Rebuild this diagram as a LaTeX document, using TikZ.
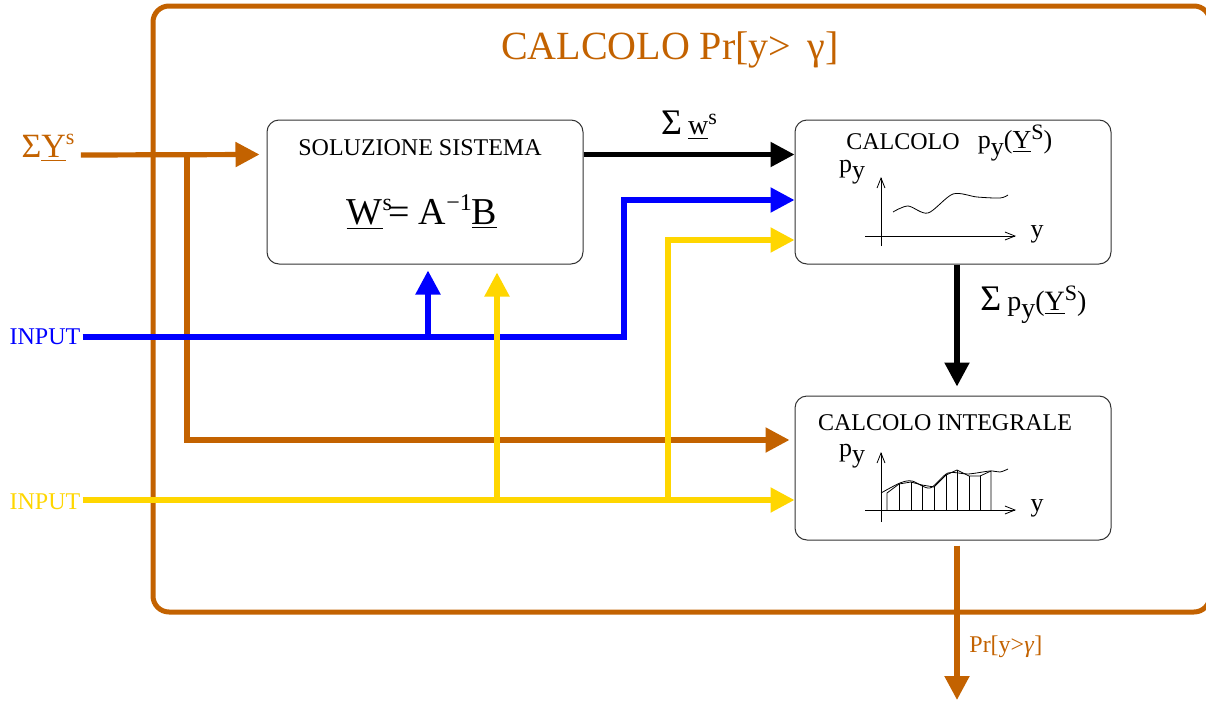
\documentclass[tikz,border=0pt]{standalone}
\usepackage{fontspec}
\setmainfont{Liberation Serif}
\usetikzlibrary{arrows.meta, positioning, calc}
\definecolor{ocra}{RGB}{195,98,0}
\definecolor{giallo}{RGB}{255,214,0}
\newcommand{\ap}[2][10]{\raisebox{0.8ex}{\fontsize{#1}{#1}\selectfont #2}}
\newcommand{\pd}[2][11]{\raisebox{-0.55ex}{\fontsize{#1}{#1}\selectfont #2}}
\newcommand{\fs}[1]{\fontsize{#1}{#1}\selectfont}

\begin{document}
\begin{tikzpicture}[x=0.5pt, y=-0.5pt,
    blocco/.style={draw=black!80, line width=0.5pt, rounded corners=6pt, minimum width=158pt, minimum height=72pt},
    flusso/.style={line width=2.6pt, -{Triangle[length=12pt, width=12pt]}},
    assi/.style={line width=0.4pt, -{Straight Barb[length=5pt, width=4pt]}},
    etich/.style={font=\fs{12}, inner sep=1pt}]
    \useasboundingbox (0,0) rectangle (1206,702);
    \draw[ocra, line width=2.5pt, rounded corners=8pt] (153,6) rectangle (1210,612);
    \node[etich, ocra, font=\fs{20}] (titolo) at (670,50) {CALCOLO Pr[y>\ \,γ]};

    \node[blocco] (sol) at (425,192) {};
    \node[blocco] (pdf) at (953,192) {};
    \node[blocco] (int) at (953,468) {};
    \node[etich] (solt) at (420,148) {SOLUZIONE SISTEMA};
    \node[etich, font=\fs{19}] (eq) at (422,212) {\underline{W}\ap[12]{s}\hspace{-0.1em}= A\ap[12]{−1}\underline{B}};
    \node[etich] (pdft) at (903,142) {CALCOLO};
    \node[etich, font=\fs{13}] (pdfy) at (1015,143) {p\pd[13]{y}(\underline{Y}\ap[11]{S})};
    \node[etich, inner sep=0pt] (intt) at (945,423) {CALCOLO INTEGRALE};

    \node[etich, ocra, font=\fs{17}] (sy) at (48,148) {Σ\underline{Y}\ap[11]{s}};
    \node[etich, blue] (inb) at (45,337) {INPUT};
    \node[etich, giallo] (ing) at (45,502) {INPUT};
    \coordinate (jo) at (187,155);
    \coordinate (jb) at (428,337);
    \coordinate (jb2) at (624,337);
    \coordinate (jg1) at (497,500);
    \coordinate (jg2) at (668,500);

    \draw[flusso, ocra] ([xshift=2pt]sy.east |- jo) -- ($(sol.north west)+(-7,35)$);
    \draw[flusso, ocra] (jo) |- ($(int.west)+(-5,-28)$);
    \draw[flusso, blue] (inb.east |- jb) -- (jb2) |- ($(pdf.west)+(0,8)$);
    \draw[flusso, blue] (jb) -- ([yshift=-3pt]jb |- sol.south);
    \draw[flusso, giallo] (ing.east |- jg1) -- ($(int.west)+(0,32)$);
    \draw[flusso, giallo] (jg1) -- ([yshift=-4pt]jg1 |- sol.south);
    \draw[flusso, giallo] (jg2) |- ($(pdf.west)+(0,48)$);
    \draw[flusso] ($(sol.north east)+(0,35)$) -- ($(pdf.north west)+(0,35)$)
        node[midway, above=3pt, font=\fs{18}] (sw) {Σ\,\fs{14}\underline{w}\ap[11]{s}};
    \draw[flusso] ($(pdf.south)+(4,0)$) -- ($(int.north)+(4,-9)$);
    \node[etich, font=\fs{18}, anchor=west] (sp) at (978,305) {Σ\,\fs{14}p\pd[14]{y}(\underline{Y}\ap[11]{S})};
    \draw[flusso, ocra] ($(int.south)+(4,5)$) -- (957,700) coordinate (fine);
    \node[etich, ocra, anchor=west] (pr) at (967,647) {Pr[y>\textit{γ}]};

    \draw[assi] (881,246) -- (881,177);
    \draw[assi] (865,236) -- (1016,236);
    \node[etich, font=\fs{13}] (py1) at (852,172) {p\pd[13]{y}};
    \node[etich, font=\fs{13}] (y1) at (1037,234) {y};
    \draw[line width=0.4pt] plot[smooth] coordinates {(893,212) (908,206) (928,213) (953,194) (977,197) (1000,198) (1008,195)};

    \draw[assi] (881,522) -- (881,452);
    \draw[assi] (865,510) -- (1016,510);
    \node[etich, font=\fs{13}, inner sep=0pt] (py2) at (852,456) {p\pd[13]{y}};
    \node[etich, font=\fs{13}] (y2) at (1037,508) {y};
    \draw[line width=0.4pt] plot[smooth] coordinates {(881,493) (900,483) (912,481) (930,488) (948,473) (968,474) (990,471) (1000,472) (1008,469)};
    \draw[line width=0.4pt] (887,510) -- (887,493) -- (899,484) -- (911,482) -- (922,485) -- (934,487) -- (946,475) -- (957,470) -- (969,476) -- (980,476) -- (991,471) -- (991,510);
    \foreach \x/\h in {899/484, 911/482, 922/485, 934/487, 946/475, 957/470, 969/476, 980/476} {
        \draw[line width=0.4pt] (\x,510) -- (\x,\h);
    }
\end{tikzpicture}
\end{document}
